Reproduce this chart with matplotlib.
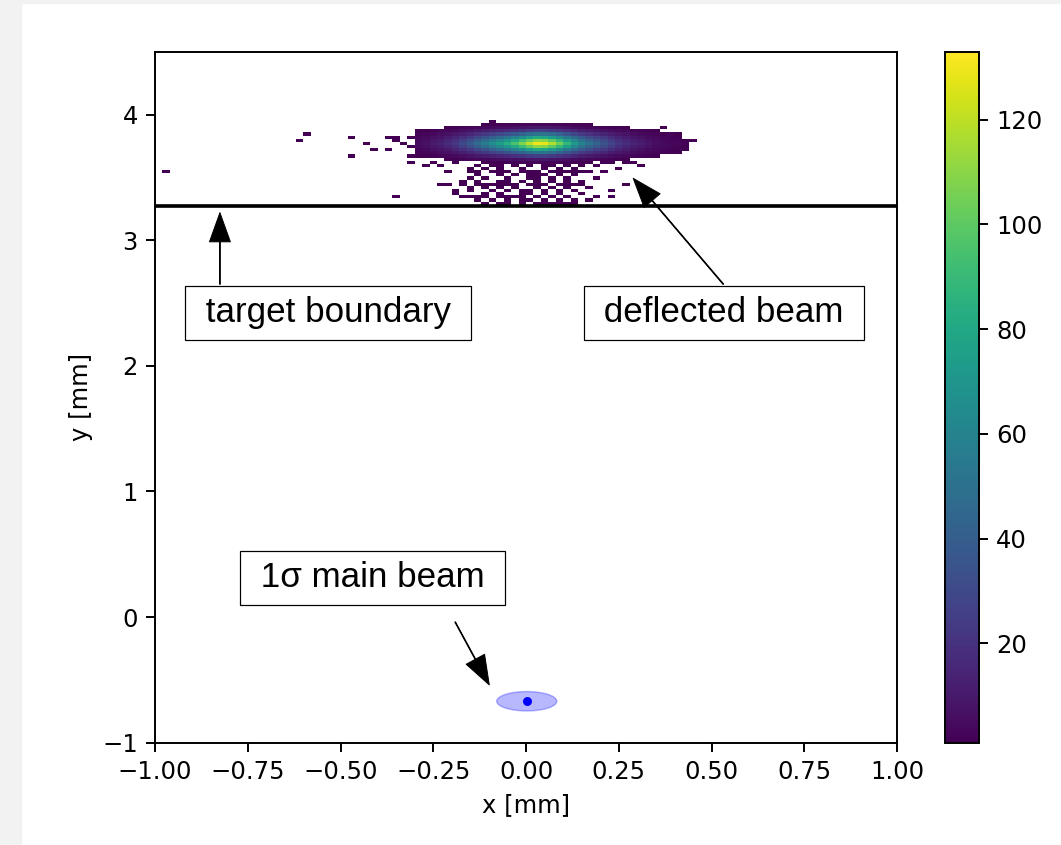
import numpy as np
import matplotlib
matplotlib.use("Agg")
from matplotlib import pyplot as plt
from matplotlib.patches import Ellipse, Rectangle

## histogram binning (mm)
x_edges = np.linspace(-1, 1, 101)
y_edges = 3.2825 + 0.025 * np.arange(29)

## core of the deflected beam: peak counts along x, relative weight along y
core_x = np.round(np.arange(-0.29, 0.44, 0.02), 2)
core_peak = [5, 7, 10, 13, 17, 23, 30, 38, 47, 56, 65, 74, 84, 95, 108, 120, 130,
             128, 118, 104, 88, 73, 60, 50, 42, 35, 28, 22, 18, 14, 11, 8, 6,
             4.5, 3.5, 2.5, 1.6]
core_y = np.round(3.62 + 0.025 * np.arange(13), 3)
core_weight = [0.02, 0.07, 0.2, 0.4, 0.62, 0.85, 1.0, 0.85, 0.62, 0.4, 0.2, 0.07, 0.02]

## sparse single hits (tail below the core + strays)
tail_x = [-0.268, -0.232, -0.124, -0.097, -0.070, -0.025, 0.020, 0.056, 0.074, 0.118, 0.154, 0.181,
          -0.205, -0.151, -0.079, -0.043, -0.016, 0.038, 0.074, 0.100, 0.136, 0.172, 0.200,
          -0.124, -0.061, -0.034, 0.002, 0.029, 0.056, 0.091, 0.127,
          -0.178, -0.133, -0.070, -0.043, -0.016, 0.029, 0.065, 0.109, 0.145,
          -0.223, -0.178, -0.106, -0.070, -0.025, 0.011, 0.038, 0.082, 0.118, 0.154, 0.271,
          -0.187, -0.142, -0.088, -0.052, -0.016, 0.020, 0.056, 0.100, 0.136, 0.226,
          -0.169, -0.124, -0.079, -0.043, -0.007, 0.029, 0.065, 0.109, 0.226,
          -0.124, -0.088, -0.052, -0.016, 0.020, 0.056, 0.091, 0.136, 0.163,
          -0.079, -0.043, -0.007, 0.029, 0.074, 0.109,
          -0.30, -0.25, -0.19, 0.20, 0.23, 0.30,
          -0.16, -0.10, -0.06, -0.01, 0.05, 0.09, 0.13, 0.24,
          -0.14, -0.09, -0.02, 0.01, 0.07, 0.11, 0.15,
          -0.15, -0.10, -0.05, 0.00, 0.04, 0.08, 0.12, 0.18,
          -0.20, -0.14, -0.09, -0.05, 0.00, 0.05, 0.10, 0.13,
          -0.16, -0.11, -0.06, -0.03, 0.04, 0.08, 0.12, 0.17,
          -0.19, -0.10, -0.06, -0.02, 0.01, 0.05, 0.09, 0.15,
          -0.15, -0.10, -0.03, 0.04, 0.08, 0.12, 0.18,
          -0.11, -0.02, 0.05, 0.09, 0.14,
          -0.980, -0.582, -0.605, -0.480, -0.470, -0.426, -0.410, -0.375, -0.367, -0.349,
          -0.340, -0.326, -0.308, -0.300, -0.305, -0.353, -0.089, 0.379, 0.400, 0.415,
          0.442, 0.420, 0.262, 0.316]
tail_y = [3.595] * 12 + [3.555] * 11 + [3.515] * 8 + [3.475] * 9 + [3.436] * 11 + \
         [3.396] * 10 + [3.356] * 9 + [3.316] * 9 + [3.29] * 6 + \
         [3.62] * 6 + [3.575] * 8 + [3.535] * 7 + [3.495] * 8 + [3.455] * 8 + \
         [3.42] * 8 + [3.375] * 8 + [3.34] * 7 + [3.30] * 5 + \
         [3.547, 3.839, 3.790, 3.810, 3.660, 3.770, 3.720, 3.714, 3.830, 3.790,
          3.820, 3.770, 3.810, 3.740, 3.670, 3.343, 3.947, 3.900, 3.850, 3.770,
          3.790, 3.730, 3.620, 3.600]

boundary_y = 3.27
beam_x0, beam_y0 = 0.002, -0.670
beam_w, beam_h = 0.162, 0.154
cbar_ticks = [20, 40, 60, 80, 100, 120]

## build counts
counts = np.zeros((len(x_edges) - 1, len(y_edges) - 1))
ix = np.searchsorted(x_edges, core_x) - 1
iy = np.searchsorted(y_edges, core_y) - 1
counts[np.ix_(ix, iy)] += np.outer(core_peak, core_weight)
tail_counts, _, _ = np.histogram2d(tail_x, tail_y, bins=[x_edges, y_edges])
counts += tail_counts
counts = np.ma.masked_less(counts, 1)

## figure
fig = plt.figure(figsize=(1061 / 175, 845 / 175), dpi=175, facecolor='white')
fig.patches.append(Rectangle((0, 0), 21 / 1061, 1, transform=fig.transFigure,
                             color='#f2f2f2', zorder=-10))
fig.patches.append(Rectangle((0, 1 - 3 / 845), 1, 3 / 845, transform=fig.transFigure,
                             color='#f2f2f2', zorder=-10))

ax = fig.add_axes([0.14609, 0.12107, 0.69934, 0.81775])
cax = fig.add_axes([0.89066, 0.12107, 0.03206, 0.81775])

mesh = ax.pcolormesh(x_edges, y_edges, counts.T, cmap='viridis', vmin=1, vmax=133)
ax.axhline(boundary_y, color='black', linewidth=1.5)

ax.add_patch(Ellipse((beam_x0, beam_y0), beam_w, beam_h, facecolor='blue',
                     edgecolor='blue', alpha=0.28, linewidth=0.6))
ax.plot([beam_x0], [beam_y0], 'o', color='blue', markersize=2.7)

ax.set_xlim(-1, 1)
ax.set_ylim(-1, 4.5)
ax.set_xticks(np.arange(-1, 1.01, 0.25))
ax.set_yticks([-1, 0, 1, 2, 3, 4])
ax.set_xlabel('x [mm]')
ax.set_ylabel('y [mm]')

cb = fig.colorbar(mesh, cax=cax, ticks=cbar_ticks)

## annotations
box = dict(boxstyle='square,pad=0.3', facecolor='white', edgecolor='black', linewidth=0.5)
arrow = dict(facecolor='black', edgecolor='black', width=0.3, headwidth=8.6,
             headlength=12, linewidth=0.4, shrink=0)
txt = dict(fontsize=14.4, family='Liberation Sans', ha='center', va='center', bbox=box)

ax.text(-0.534, 2.424, ' target boundary ', **txt)
ax.text(0.533, 2.423, ' deflected beam ', **txt)
ax.text(-0.414, 0.311, ' 1σ main beam ', **txt)

ax.annotate('', xy=(-0.825, 3.219), xytext=(-0.825, 2.649), arrowprops=arrow)
ax.annotate('', xy=(0.289, 3.492), xytext=(0.532, 2.649), arrowprops=arrow)
ax.annotate('', xy=(-0.099, -0.540), xytext=(-0.191, -0.039), arrowprops=arrow)

fig.savefig('out.png', dpi=175)
